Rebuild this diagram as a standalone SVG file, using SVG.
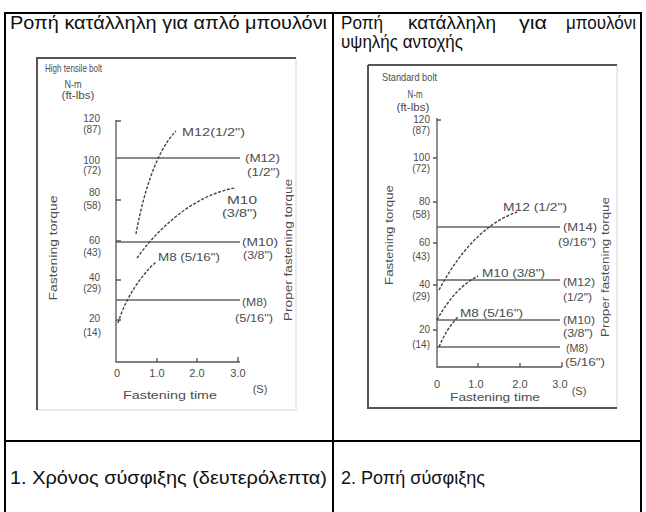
<svg xmlns="http://www.w3.org/2000/svg" width="646" height="512" viewBox="0 0 646 512">
<style>
.t{font-family:"Liberation Sans",Arial,sans-serif;font-size:18px;fill:#111}
.c{font-family:"Liberation Sans",Arial,sans-serif;font-size:11px;fill:#4d4d4d}
.n{font-family:"Liberation Sans",Arial,sans-serif;font-size:10px;fill:#4d4d4d}
.m{text-anchor:middle}
.e{text-anchor:end}
.grid{stroke:#000;stroke-width:2;fill:none}
.ax{stroke:#555;stroke-width:1.3;fill:none}
.hl{stroke:#666;stroke-width:1.3;fill:none}
.cv{stroke:#444;stroke-width:1.4;fill:none;stroke-dasharray:3 1.6}
.fd{stroke:#555;stroke-width:2;fill:none}
.fl{stroke:#e2e2e2;stroke-width:1.5;fill:none}
</style>
<rect width="646" height="512" fill="#fff"/>
<g id="table">
<path class="grid" d="M5,13H641M5,441H641M5,12V512M333,12V512M641,12V512"/>
</g>
<g id="header-left">
<text class="t" x="10" y="29" textLength="317" lengthAdjust="spacingAndGlyphs">Ροπή κατάλληλη για απλό μπουλόνι</text>
</g>
<g id="header-right">
<text class="t" x="341" y="29" textLength="42" lengthAdjust="spacingAndGlyphs">Ροπή</text>
<text class="t" x="408" y="29" textLength="88" lengthAdjust="spacingAndGlyphs">κατάλληλη</text>
<text class="t" x="519" y="29" textLength="28" lengthAdjust="spacingAndGlyphs">για</text>
<text class="t" x="566" y="29" textLength="70" lengthAdjust="spacingAndGlyphs">μπουλόνι</text>
<text class="t" x="341" y="48" textLength="122" lengthAdjust="spacingAndGlyphs">υψηλής αντοχής</text>
</g>
<g id="chart-high-tensile">
<path class="fl" d="M296,58V410H37"/>
<path class="fd" d="M37,410V58H296"/>
<text class="c" x="45" y="72" textLength="57" lengthAdjust="spacingAndGlyphs">High tensile bolt</text>
<text class="c m" x="73" y="88" textLength="17" lengthAdjust="spacingAndGlyphs">N-m</text>
<text class="c m" x="78" y="99" textLength="33" lengthAdjust="spacingAndGlyphs">(ft-lbs)</text>
<text class="n e" x="100" y="122">120</text>
<text class="n e" x="101" y="133">(87)</text>
<text class="n e" x="100" y="164">100</text>
<text class="n e" x="101" y="174">(72)</text>
<text class="n e" x="100" y="196">80</text>
<text class="n e" x="101" y="209">(58)</text>
<text class="n e" x="100" y="244">60</text>
<text class="n e" x="101" y="256">(43)</text>
<text class="n e" x="100" y="281">40</text>
<text class="n e" x="101" y="292">(29)</text>
<text class="n e" x="100" y="322">20</text>
<text class="n e" x="101" y="336">(14)</text>
<path class="ax" d="M116,120V362H240M116,121H121M116,200H121M116,241H121M116,280H121M116,320H121M157,362V358M197,362V358M238,362V357"/>
<path class="hl" d="M116,158H240M116,242H240M116,300H240"/>
<path class="cv" d="M136,234C142,200 155,152 176,131"/>
<path class="cv" d="M137,258C160,226 195,195 235,188"/>
<path class="cv" d="M118,323C125,300 140,276 156,262"/>
<text class="c" x="182" y="136" textLength="63" lengthAdjust="spacingAndGlyphs">M12(1/2")</text>
<text class="c" x="227" y="204" textLength="30" lengthAdjust="spacingAndGlyphs">M10</text>
<text class="c" x="222" y="217" textLength="35" lengthAdjust="spacingAndGlyphs">(3/8")</text>
<text class="c" x="158" y="261" textLength="62" lengthAdjust="spacingAndGlyphs">M8 (5/16")</text>
<text class="c" x="245" y="162" textLength="35" lengthAdjust="spacingAndGlyphs">(M12)</text>
<text class="c" x="247" y="176" textLength="33" lengthAdjust="spacingAndGlyphs">(1/2")</text>
<text class="c" x="242" y="246" textLength="36" lengthAdjust="spacingAndGlyphs">(M10)</text>
<text class="c" x="243" y="259" textLength="30" lengthAdjust="spacingAndGlyphs">(3/8")</text>
<text class="c" x="242" y="306" textLength="25" lengthAdjust="spacingAndGlyphs">(M8)</text>
<text class="c" x="235" y="322" textLength="38" lengthAdjust="spacingAndGlyphs">(5/16")</text>
<text class="c m" x="117" y="377">0</text>
<text class="c m" x="157" y="377">1.0</text>
<text class="c m" x="197" y="377">2.0</text>
<text class="c m" x="238" y="377">3.0</text>
<text class="c m" x="170" y="399" textLength="94" lengthAdjust="spacingAndGlyphs">Fastening time</text>
<text class="c m" x="260" y="393">(S)</text>
<text class="c m" transform="translate(57,248) rotate(-90)" textLength="105" lengthAdjust="spacingAndGlyphs">Fastening torque</text>
<text class="c m" transform="translate(292,250) rotate(-90)" textLength="142" lengthAdjust="spacingAndGlyphs">Proper fastening torque</text>
</g>
<g id="chart-standard">
<path class="fl" d="M617,65V408"/>
<path class="fd" d="M368,65H617M368,65V408H617"/>
<text class="c" x="382" y="81" textLength="55" lengthAdjust="spacingAndGlyphs">Standard bolt</text>
<text class="c m" x="415" y="98" textLength="15" lengthAdjust="spacingAndGlyphs">N-m</text>
<text class="c m" x="413" y="111" textLength="33" lengthAdjust="spacingAndGlyphs">(ft-lbs)</text>
<text class="n e" x="430" y="123">120</text>
<text class="n e" x="430" y="134">(87)</text>
<text class="n e" x="430" y="161">100</text>
<text class="n e" x="430" y="172">(72)</text>
<text class="n e" x="430" y="205">80</text>
<text class="n e" x="430" y="218">(58)</text>
<text class="n e" x="430" y="246">60</text>
<text class="n e" x="430" y="260">(43)</text>
<text class="n e" x="430" y="288">40</text>
<text class="n e" x="430" y="300">(29)</text>
<text class="n e" x="430" y="333">20</text>
<text class="n e" x="430" y="348">(14)</text>
<path class="ax" d="M437,118V367H562M437,120H441M433,158H437M433,202H437M433,243H437M433,285H437M433,330H437M478,367V363M520,367V363M562,367V362"/>
<path class="hl" d="M437,227H560M437,280H560M437,320H560M437,347H560"/>
<path class="cv" d="M439,290C455,260 480,225 517,212"/>
<path class="cv" d="M437,320C447,302 460,285 478,276"/>
<path class="cv" d="M439,347C444,335 450,325 458,317"/>
<text class="c" x="503" y="211" textLength="64" lengthAdjust="spacingAndGlyphs">M12 (1/2")</text>
<text class="c" x="482" y="277" textLength="63" lengthAdjust="spacingAndGlyphs">M10 (3/8")</text>
<text class="c" x="460" y="317" textLength="63" lengthAdjust="spacingAndGlyphs">M8 (5/16")</text>
<text class="c" x="563" y="231" textLength="34" lengthAdjust="spacingAndGlyphs">(M14)</text>
<text class="c" x="558" y="246" textLength="38" lengthAdjust="spacingAndGlyphs">(9/16")</text>
<text class="c" x="563" y="286" textLength="32" lengthAdjust="spacingAndGlyphs">(M12)</text>
<text class="c" x="563" y="301" textLength="29" lengthAdjust="spacingAndGlyphs">(1/2")</text>
<text class="c" x="563" y="324" textLength="32" lengthAdjust="spacingAndGlyphs">(M10)</text>
<text class="c" x="563" y="337" textLength="30" lengthAdjust="spacingAndGlyphs">(3/8")</text>
<text class="c" x="566" y="352" textLength="22" lengthAdjust="spacingAndGlyphs">(M8)</text>
<text class="c" x="565" y="366" textLength="40" lengthAdjust="spacingAndGlyphs">(5/16")</text>
<text class="c m" x="437" y="388">0</text>
<text class="c m" x="476" y="388">1.0</text>
<text class="c m" x="520" y="388">2.0</text>
<text class="c m" x="560" y="388">3.0</text>
<text class="c m" x="495" y="401" textLength="90" lengthAdjust="spacingAndGlyphs">Fastening time</text>
<text class="c m" x="579" y="395">(S)</text>
<text class="c m" transform="translate(393,235) rotate(-90)" textLength="100" lengthAdjust="spacingAndGlyphs">Fastening torque</text>
<text class="c m" transform="translate(609,267) rotate(-90)" textLength="140" lengthAdjust="spacingAndGlyphs">Proper fastening torque</text>
</g>
<g id="footer-left">
<text class="t" x="10" y="484" textLength="317" lengthAdjust="spacingAndGlyphs">1. Χρόνος σύσφιξης (δευτερόλεπτα)</text>
</g>
<g id="footer-right">
<text class="t" x="341" y="484" textLength="144" lengthAdjust="spacingAndGlyphs">2. Ροπή σύσφιξης</text>
</g>
</svg>
